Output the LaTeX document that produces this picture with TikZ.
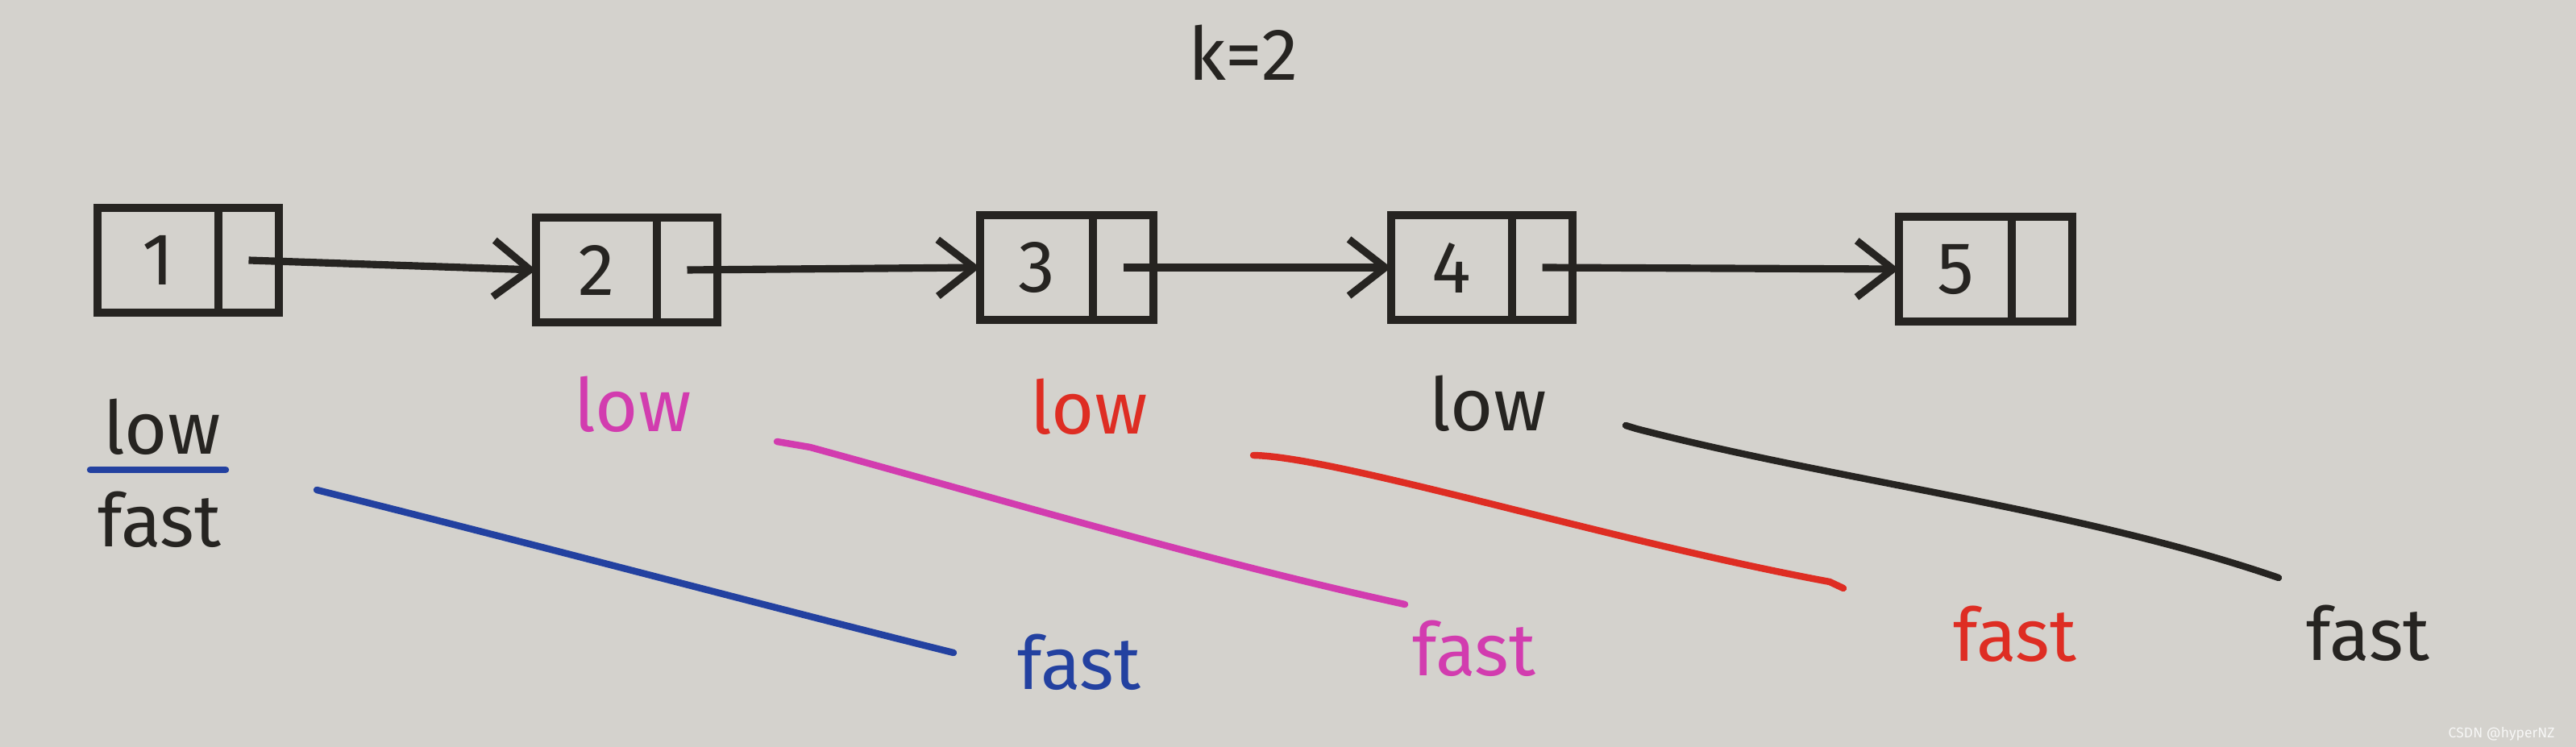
\documentclass[tikz,border=0pt]{standalone}
\usepackage{fontspec}
\setmainfont{Fira Sans}
\usepackage{xcolor}
\usetikzlibrary{arrows.meta,positioning}
\definecolor{paper}{RGB}{212,210,205}
\definecolor{inkblack}{RGB}{38,36,33}
\definecolor{inkblue}{RGB}{35,65,160}
\definecolor{inkpink}{RGB}{210,60,175}
\definecolor{inkred}{RGB}{222,45,35}

\begin{document}
\begin{tikzpicture}[
  cell/.style={draw=inkblack, line width=2.6pt, minimum width=1.5cm, minimum height=1.3cm, inner sep=0pt, outer sep=0pt, text=inkblack, font=\fontsize{26}{30}\selectfont},
  ptr/.style={cell, minimum width=0.75cm},
  lbl/.style={inner sep=0pt, font=\fontsize{26}{30}\selectfont},
  arr/.style={-{Straight Barb[length=4.5mm,width=7mm]}, line width=2.6pt, inkblack},
  walk/.style={line width=2.4pt, line cap=round}
]

\fill[paper] (0,0) rectangle (31.96,9.27);
\useasboundingbox (0,0) rectangle (31.96,9.27);

\node[lbl, text=inkblack] (k) at (15.43,8.62) {k=2};

% list
\node[cell] (n1) at (1.96,6.04) {1};
\node[cell] (n2) at (7.40,5.92) {2};
\node[cell, minimum width=1.4cm] (n3) at (12.86,5.95) {3};
\node[cell] (n4) at (18.01,5.95) {4};
\node[cell, minimum width=1.4cm] (n5) at (24.26,5.93) {5};
\foreach \i in {1,...,5} \node[ptr, right=0pt of n\i] (p\i) {};
\foreach \i/\j in {1/2,2/3,3/4,4/5} \draw[arr] (p\i.center) -- (n\j.west);

% pointers
\node[lbl, text=inkblack] (low1) at (2.01,3.97) {low};
\node[lbl, text=inkblack] (fast1) at (1.98,2.82) {fast};
\draw[walk, inkblue] (1.12,3.44) -- (2.80,3.44);

\node[lbl, text=inkpink] (low2) at (7.85,4.25) {low};
\node[lbl, text=inkred] (low3) at (13.51,4.22) {low};
\node[lbl, text=inkblack] (low4) at (18.46,4.26) {low};

\node[lbl, text=inkblue] (fast2) at (13.39,1.05) {fast};
\node[lbl, text=inkpink] (fast3) at (18.29,1.22) {fast};
\node[lbl, text=inkred] (fast4) at (25.00,1.40) {fast};
\node[lbl, text=inkblack] (fast5) at (29.38,1.41) {fast};

\coordinate (b0) at (3.93,3.19);
\coordinate (b1) at (11.83,1.17);
\coordinate (m0) at (9.64,3.79);
\coordinate (m1) at (17.43,1.77);
\coordinate (r0) at (15.55,3.62);
\coordinate (r1) at (22.87,1.97);
\coordinate (k0) at (20.17,3.99);
\coordinate (k1) at (28.27,2.10);

\draw[walk, inkblue] (b0) .. controls (6.5,2.55) and (9.5,1.75) .. (b1);
\draw[walk, inkpink] (m0) -- (10.05,3.72) .. controls (12.5,3.05) and (15,2.3) .. (m1);
\draw[walk, inkred] (r0) .. controls (16.6,3.6) and (20,2.55) .. (22.7,2.05) -- (r1);
\draw[walk, inkblack] (k0) -- (20.3,3.95) .. controls (22.8,3.3) and (25.8,2.95) .. (k1);

\node[font=\fontsize{5}{6}\selectfont, text=white!80!paper, anchor=east] (mark) at (31.82,0.16) {CSDN @hyperNZ};

\end{tikzpicture}
\end{document}
